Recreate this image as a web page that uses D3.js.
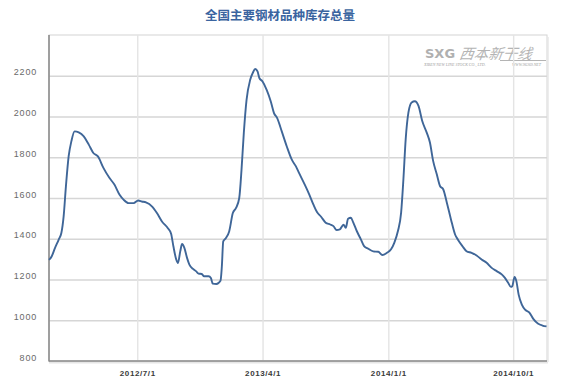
<!DOCTYPE html>
<html><head><meta charset="utf-8">
<script src="https://cdn.jsdelivr.net/npm/d3@7/dist/d3.min.js"></script>
<style>body{margin:0;background:#fff}</style>
</head><body>
<svg id="c" width="568" height="389"></svg>
<script>
const title = "全国主要钢材品种库存总量";
const dates = ["2011-12-21","2011-12-27","2012-01-03","2012-01-11","2012-01-17","2012-01-22","2012-01-27","2012-02-02","2012-02-08","2012-02-15","2012-02-24","2012-03-06","2012-03-17","2012-03-27","2012-04-06","2012-04-18","2012-05-01","2012-05-12","2012-05-23","2012-06-01","2012-06-12","2012-06-23","2012-07-03","2012-07-11","2012-07-20","2012-08-02","2012-08-13","2012-08-24","2012-09-06","2012-09-13","2012-09-18","2012-09-24","2012-09-28","2012-10-03","2012-10-07","2012-10-12","2012-10-18","2012-10-23","2012-10-31","2012-11-07","2012-11-12","2012-11-19","2012-11-24","2012-12-04","2012-12-09","2012-12-13","2012-12-21","2012-12-30","2013-01-02","2013-01-05","2013-01-11","2013-01-18","2013-01-26","2013-02-02","2013-02-09","2013-02-14","2013-02-19","2013-02-25","2013-03-05","2013-03-11","2013-03-16","2013-03-21","2013-03-25","2013-04-01","2013-04-10","2013-04-19","2013-04-26","2013-05-03","2013-05-13","2013-05-24","2013-06-04","2013-06-13","2013-06-20","2013-07-02","2013-07-12","2013-07-21","2013-07-29","2013-08-07","2013-08-17","2013-08-27","2013-09-03","2013-09-10","2013-09-17","2013-09-25","2013-09-30","2013-10-05","2013-10-11","2013-10-16","2013-10-24","2013-11-02","2013-11-09","2013-11-18","2013-11-29","2013-12-10","2013-12-19","2013-12-29","2014-01-07","2014-01-14","2014-01-22","2014-01-29","2014-02-03","2014-02-08","2014-02-14","2014-02-21","2014-02-28","2014-03-08","2014-03-16","2014-03-26","2014-04-02","2014-04-09","2014-04-17","2014-04-24","2014-05-01","2014-05-09","2014-05-18","2014-05-27","2014-06-03","2014-06-12","2014-06-21","2014-07-02","2014-07-13","2014-07-24","2014-08-04","2014-08-15","2014-08-26","2014-09-06","2014-09-13","2014-09-20","2014-09-26","2014-09-29","2014-10-04","2014-10-08","2014-10-13","2014-10-20","2014-10-27","2014-11-05","2014-11-14","2014-11-24","2014-12-04","2014-12-13"];
const values = [1296,1314,1354,1395,1428,1510,1657,1805,1879,1927,1922,1902,1862,1821,1804,1748,1699,1666,1617,1592,1575,1575,1588,1583,1578,1559,1526,1485,1452,1425,1363,1300,1281,1338,1374,1355,1305,1273,1252,1240,1229,1227,1216,1216,1207,1180,1178,1194,1265,1387,1404,1436,1526,1551,1600,1739,1919,2082,2180,2216,2233,2221,2189,2172,2131,2074,2017,1992,1927,1853,1788,1755,1722,1667,1618,1569,1531,1508,1479,1470,1462,1443,1446,1469,1454,1498,1503,1482,1438,1397,1364,1351,1338,1336,1320,1331,1348,1380,1438,1528,1692,1889,2020,2069,2075,2052,1979,1921,1872,1782,1716,1659,1643,1577,1495,1421,1393,1364,1339,1331,1318,1298,1282,1257,1241,1225,1208,1184,1164,1167,1213,1192,1126,1077,1052,1039,1007,984,974,970];
const yTicks = [800,1000,1200,1400,1600,1800,2000,2200];
const xTickLabels = ["2012/7/1","2013/4/1","2014/1/1","2014/10/1"];
const xDomain = ["2011-12-21","2014-12-14"];
const yDomain = [800,2400];

const parse = d3.timeParse("%Y-%m-%d");
const parseTick = d3.timeParse("%Y/%m/%d");
const data = dates.map((d,i)=>({date:parse(d), v:values[i]}));

const svg = d3.select("#c");
const L=49, R=547, T=35, B=361;
const x = d3.scaleTime().domain(xDomain.map(parse)).range([L,R]);
const y = d3.scaleLinear().domain(yDomain).range([B,T]);

// title
svg.append("text").attr("x",280).attr("y",20).attr("text-anchor","middle")
  .attr("font-family","'Noto Sans CJK SC'").attr("font-weight","bold").attr("font-size","12.5px")
  .attr("fill","#3a64a0").text(title);

// frame (top/right light)
svg.append("rect").attr("x",L).attr("y",T).attr("width",R-L).attr("height",B-T)
  .attr("fill","none").attr("stroke","#d4d4d4").attr("stroke-width",1);

// watermark
const wm = svg.append("g").attr("fill","#a8a8a8");
wm.append("text").attr("x",425).attr("y",58).attr("font-family","'DejaVu Sans'").attr("font-weight","bold")
  .attr("font-size","13px").attr("fill","#b0b0b0").text("SXG");
wm.append("text").attr("x",459).attr("y",59).attr("font-family","'Noto Sans CJK SC'").attr("font-style","italic")
  .attr("font-size","14.5px").attr("fill","#b4b4b4").attr("transform","skewX(-8) translate(8,0)").text("西本新干线");
wm.append("line").attr("x1",500).attr("x2",546).attr("y1",60.5).attr("y2",60.5).attr("stroke","#b4b4b4");
wm.append("text").attr("x",424).attr("y",66).attr("font-family","'Liberation Serif'").attr("font-style","italic")
  .attr("font-size","4px").attr("fill","#a0a0a0").text("XIBEN NEW LINE STOCK CO., LTD.");
wm.append("text").attr("x",512).attr("y",66).attr("font-family","'Liberation Serif'").attr("font-style","italic")
  .attr("font-size","4px").attr("fill","#a0a0a0").text("WWW.96369.NET");

// horizontal grid
const yAxis = d3.axisLeft(y).tickValues(yTicks).tickSize(-(R-L)).tickFormat(d3.format("d"));
const gy = svg.append("g").attr("transform",`translate(${L},0)`).call(yAxis);
gy.select(".domain").remove();
gy.selectAll(".tick line").attr("stroke","#d6d6d6").attr("stroke-width",1.6);
gy.selectAll(".tick text").attr("x",-12).attr("dy","-0.1em")
  .attr("font-family","'Liberation Sans'").attr("font-size","9px").attr("letter-spacing","0.8px")
  .attr("fill","#6a6a6a");

// vertical grid
const xTicks = xTickLabels.map(parseTick);
const xAxis = d3.axisBottom(x).tickValues(xTicks).tickSize(-(B-T)).tickFormat(d3.timeFormat("%Y/%-m/%-d"));
const gx = svg.append("g").attr("transform",`translate(0,${B})`).call(xAxis);
gx.select(".domain").remove();
gx.selectAll(".tick line").attr("stroke","#e4e4e4").attr("stroke-width",1.4);
gx.selectAll(".tick text").attr("y",9).attr("font-family","'Liberation Sans'").attr("font-weight","bold")
  .attr("font-size","8px").attr("letter-spacing","0.6px").attr("fill","#3a3a3a");

// axis lines left & bottom
svg.append("line").attr("x1",L).attr("x2",L).attr("y1",T).attr("y2",B+0.5).attr("stroke","#8c8c8c").attr("stroke-width",1.6);
svg.append("line").attr("x1",L).attr("x2",R).attr("y1",B).attr("y2",B).attr("stroke","#8c8c8c").attr("stroke-width",1.6);
svg.append("line").attr("x1",L).attr("x2",R+1).attr("y1",B+1.8).attr("y2",B+1.8).attr("stroke","#e6e6e6").attr("stroke-width",1.4);
svg.append("line").attr("x1",R+1).attr("x2",R+1).attr("y1",T+2).attr("y2",B+1).attr("stroke","#e6e6e6").attr("stroke-width",1.4);

// line
const line = d3.line().x(d=>x(d.date)).y(d=>y(d.v)).curve(d3.curveMonotoneX);
svg.append("path").datum(data).attr("d",line).attr("fill","none")
  .attr("stroke","#3f6698").attr("stroke-width",1.9).attr("stroke-linejoin","round");
</script>
</body></html>
